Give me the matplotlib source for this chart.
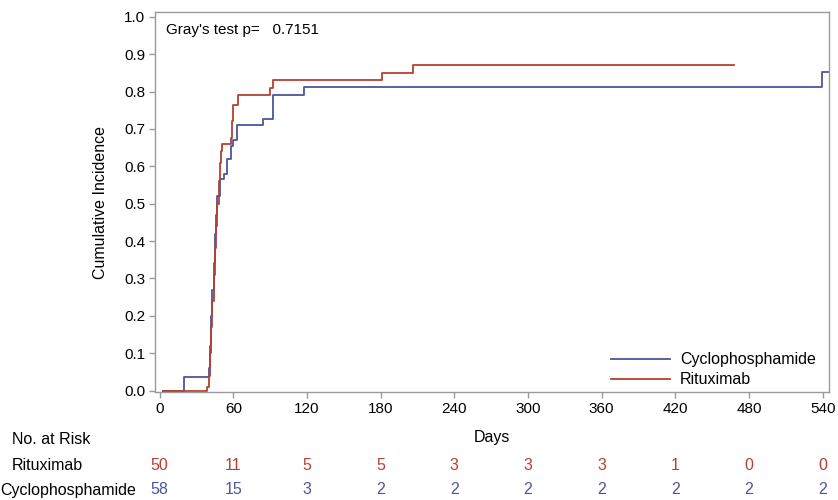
import matplotlib
matplotlib.use("Agg")
import matplotlib.pyplot as plt
import matplotlib.transforms as mtransforms

plt.rcParams['font.family'] = ['Liberation Sans', 'DejaVu Sans']

# cumulative incidence, step values (days, value after step)
ritux_days = [3, 39, 40, 41, 42, 43, 44, 45, 46, 47, 48, 49, 50, 51, 58, 59, 60, 64, 90, 92, 181, 206, 468]
ritux_ci = [0.0, 0.01, 0.04, 0.10, 0.17, 0.24, 0.31, 0.38, 0.44, 0.50, 0.56, 0.61, 0.64, 0.66, 0.675, 0.72, 0.765, 0.79, 0.81, 0.83, 0.85, 0.872, 0.872]

cyclo_days = [3, 20, 40, 41, 42, 43, 44, 45, 46, 47, 49, 52.5, 55, 58, 60, 63.4, 84.5, 92.7, 118, 539, 546]
cyclo_ci = [0.0, 0.035, 0.06, 0.12, 0.20, 0.27, 0.34, 0.42, 0.47, 0.52, 0.565, 0.58, 0.62, 0.655, 0.67, 0.71, 0.726, 0.79, 0.812, 0.852, 0.852]

# number at risk table
risk_days = [0, 60, 120, 180, 240, 300, 360, 420, 480, 540]
ritux_risk = [50, 11, 5, 5, 3, 3, 3, 1, 0, 0]
cyclo_risk = [58, 15, 3, 2, 2, 2, 2, 2, 2, 2]

blue = "#4a56a0"
red = "#b5402f"
grey = "#9a9a9a"

fig = plt.figure(figsize=(8.38, 5), dpi=100)
ax = fig.add_axes([0.185, 0.216, 0.8047, 0.7594])

ax.step(cyclo_days, cyclo_ci, where="post", color=blue, lw=1.3, label="Cyclophosphamide")
ax.step(ritux_days, ritux_ci, where="post", color=red, lw=1.3, label="Rituximab")

ax.set_xlim(-3.7, 545.4)
ax.set_ylim(-0.004, 1.012)
ax.set_xticks(risk_days)
ax.set_yticks([i / 10 for i in range(11)])
ax.set_yticklabels(["%.1f" % (i / 10) for i in range(11)])
ax.tick_params(direction="out", length=4, width=1, color=grey, labelsize=11, pad=3)
for s in ax.spines.values():
    s.set_color(grey)
    s.set_linewidth(1)

ax.set_ylabel("Cumulative Incidence", fontsize=11.5, labelpad=12)
ax.set_xlabel("Days", fontsize=11.5, labelpad=10)

ax.text(0.016, 0.953, "Gray's test p=   0.7151", transform=ax.transAxes,
        fontsize=11, va="center", ha="left")

ax.legend(loc="lower right", bbox_to_anchor=(1.001, -0.025), frameon=False,
          fontsize=11.5, handlelength=3.7, handletextpad=0.6, labelspacing=0.3)

# risk table
fs = 11.5
fig.text(12 / 838, 1 - 440 / 500, "No. at Risk", fontsize=fs, va="center", ha="left")
fig.text(12 / 838, 1 - 466 / 500, "Rituximab", fontsize=fs, va="center", ha="left")
fig.text(0.0, 1 - 490 / 500, "Cyclophosphamide", fontsize=fs, va="center", ha="left")
trans = mtransforms.blended_transform_factory(ax.transData, fig.transFigure)
for d, r, c in zip(risk_days, ritux_risk, cyclo_risk):
    ax.text(d, 1 - 466 / 500, str(r), transform=trans, color=red, fontsize=fs,
            ha="center", va="center", clip_on=False)
    ax.text(d, 1 - 490 / 500, str(c), transform=trans, color=blue, fontsize=fs,
            ha="center", va="center", clip_on=False)

fig.savefig("out.png", dpi=100)
